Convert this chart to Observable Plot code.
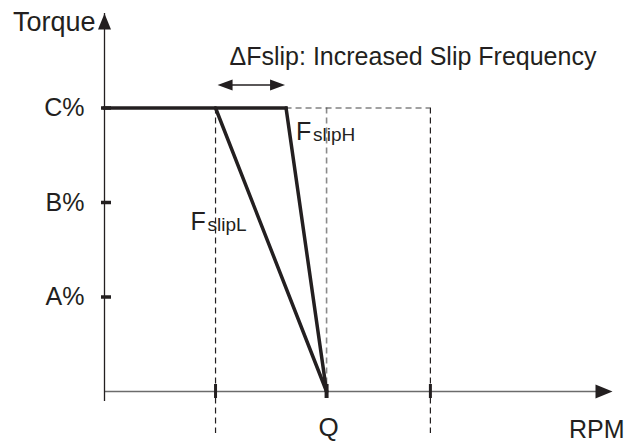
<!DOCTYPE html>
<html>
<head>
<meta charset="utf-8">
<script src="https://cdn.jsdelivr.net/npm/d3@7"></script>
<script src="https://cdn.jsdelivr.net/npm/@observablehq/plot@0.6"></script>
<style>
  html, body { margin: 0; padding: 0; background: #fff; }
</style>
</head>
<body>
<div id="chart"></div>
<script>
// ---- data ----
const yTickValues = [1, 2, 3];
const yTickLabels = ["A%", "B%", "C%"];
const torqueC = 3;            // C% level
const fslipL = 2.0;           // start of F_slipL drop (RPM units)
const fslipH = 3.27;          // start of F_slipH drop
const qRPM = 4.0;             // Q
const xRight = 5.87;          // right dashed bound
const xMax = 9.15;            // axis end
const yMax = 4.0;             // axis end
const xTickValues = [fslipL, qRPM, xRight];
const xTickLabel = "Q";
const titleText = "ΔFslip: Increased Slip Frequency";

const flatSegment = [{x: 0, y: torqueC}, {x: fslipH, y: torqueC}];
const curveL = [{x: fslipL, y: torqueC}, {x: qRPM, y: 0}];
const curveH = [{x: fslipH, y: torqueC}, {x: qRPM, y: 0}];

// ---- arrowhead symbols (tip at the point) ----
function head(dir, len, wid) {
  return {
    draw(ctx) {
      const h = wid / 2;
      if (dir === "up") { ctx.moveTo(0, 0); ctx.lineTo(-h, len); ctx.lineTo(h, len); }
      if (dir === "right") { ctx.moveTo(0, 0); ctx.lineTo(-len, -h); ctx.lineTo(-len, h); }
      if (dir === "left") { ctx.moveTo(0, 0); ctx.lineTo(len, -h); ctx.lineTo(len, h); }
      ctx.closePath();
    }
  };
}

const ink = "#231f20";
const font = "'Liberation Sans', Arial, Helvetica, sans-serif";
const dash = {strokeDasharray: "6,4", strokeWidth: 1.2};

const chart = Plot.plot({
  width: 629,
  height: 441,
  margin: 0,
  x: {domain: [0, xMax], range: [104, 612], axis: null},
  y: {domain: [0, yMax], range: [391, 13], axis: null},
  style: {fontFamily: font, background: "#fff", overflow: "visible"},
  marks: [
    // dashed guides
    Plot.ruleX([fslipL, xRight], {x: d => d, y1: torqueC, y2: 0, insetBottom: -42, stroke: ink, ...dash}),
    Plot.ruleX([qRPM], {x: d => d, y1: torqueC, y2: 0, stroke: "#8a8a8a", strokeWidth: 1.6, strokeDasharray: "6,4"}),
    Plot.ruleY([torqueC], {y: d => d, x1: fslipH, x2: xRight, stroke: "#444", ...dash}),
    // axes
    Plot.ruleY([0], {x1: 0, x2: xMax, insetRight: 10, stroke: "#6b6b6b", strokeWidth: 1.5}),
    Plot.ruleX([0], {y1: 0, y2: yMax, insetTop: 10, stroke: ink, strokeWidth: 1.3}),
    Plot.dot([{x: xMax, y: 0}], {x: "x", y: "y", symbol: head("right", 17, 14), fill: ink, stroke: "none", r: 5}),
    Plot.dot([{x: 0, y: yMax}], {x: "x", y: "y", symbol: head("up", 16, 13), fill: ink, stroke: "none", r: 5}),
    // ticks
    Plot.ruleY(yTickValues, {y: d => d, x1: 0, x2: 0, insetLeft: -3, insetRight: -7, stroke: ink, strokeWidth: 3.5}),
    Plot.ruleX([fslipL, xRight], {x: d => d, y1: 0, y2: 0, insetTop: -7, insetBottom: -7, stroke: ink, strokeWidth: 3}),
    Plot.ruleX([qRPM], {x: d => d, y1: 0, y2: 0, insetTop: -7, insetBottom: -7, stroke: ink, strokeWidth: 4}),
    // torque curves
    Plot.line(flatSegment, {x: "x", y: "y", stroke: ink, strokeWidth: 3.5, strokeLinecap: "square"}),
    Plot.line(curveL, {x: "x", y: "y", stroke: ink, strokeWidth: 3.5}),
    Plot.line(curveH, {x: "x", y: "y", stroke: ink, strokeWidth: 3.5}),
    // double arrow
    Plot.ruleY([torqueC], {y: d => d, x1: fslipL, x2: fslipH, insetLeft: 10, insetRight: 10, dy: -23, stroke: ink, strokeWidth: 1.5}),
    Plot.dot([{x: fslipL, y: torqueC}], {x: "x", y: "y", dx: 2, dy: -23, symbol: head("left", 15, 11), fill: ink, stroke: "none", r: 5}),
    Plot.dot([{x: fslipH, y: torqueC}], {x: "x", y: "y", dx: -1, dy: -23, symbol: head("right", 15, 11), fill: ink, stroke: "none", r: 5}),
    // texts
    Plot.text([titleText], {x: fslipL, y: torqueC, text: d => d, textAnchor: "start", lineAnchor: "bottom", dx: 14, dy: -43, fontSize: 25, fill: ink}),
    Plot.text(["Torque"], {x: 0, y: yMax, text: d => d, textAnchor: "end", lineAnchor: "bottom", dx: -9, dy: 17, fontSize: 27, fill: ink}),
    Plot.text(yTickValues, {x: 0, y: d => d, text: (d, i) => yTickLabels[i], textAnchor: "end", lineAnchor: "middle", dx: -20, fontSize: 25, fill: ink}),
    Plot.text([xTickLabel], {x: qRPM, y: 0, text: d => d, textAnchor: "middle", lineAnchor: "bottom", dx: 2, dy: 44, fontSize: 26, fill: ink}),
    Plot.text(["RPM"], {x: xMax, y: 0, text: d => d, textAnchor: "end", lineAnchor: "bottom", dx: 12, dy: 46, fontSize: 25, fill: ink}),
    // F_slipH label
    Plot.text(["F"], {x: fslipH, y: torqueC, text: d => d, textAnchor: "start", lineAnchor: "bottom", dx: 10, dy: 32, fontSize: 25, fill: ink}),
    Plot.text(["slipH"], {x: fslipH, y: torqueC, text: d => d, textAnchor: "start", lineAnchor: "bottom", dx: 27, dy: 33, fontSize: 19, fill: ink}),
    // F_slipL label
    Plot.text(["F"], {x: fslipL, y: torqueC, text: d => d, textAnchor: "start", lineAnchor: "bottom", dx: -25, dy: 122, fontSize: 25, fill: ink}),
    Plot.text(["slipL"], {x: fslipL, y: torqueC, text: d => d, textAnchor: "start", lineAnchor: "bottom", dx: -8, dy: 123, fontSize: 19, fill: ink})
  ]
});
document.getElementById("chart").appendChild(chart);
</script>
</body>
</html>
